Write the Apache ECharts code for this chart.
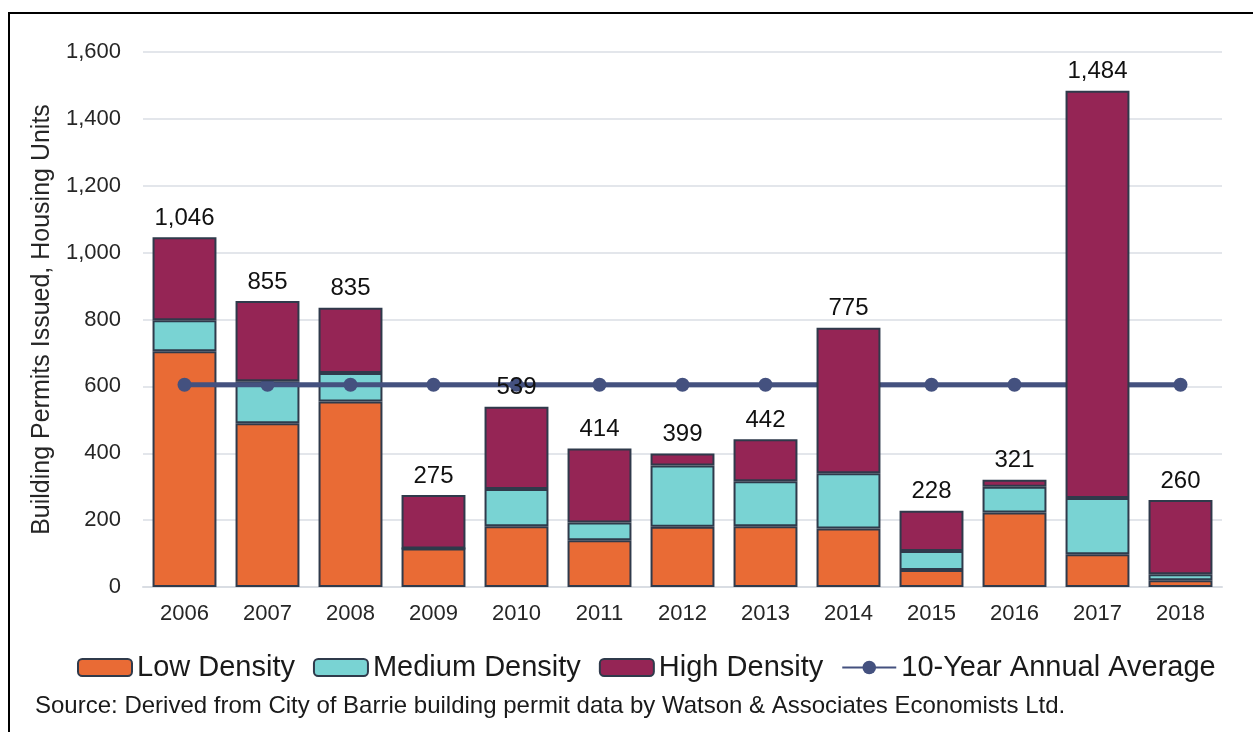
<!DOCTYPE html>
<html>
<head>
<meta charset="utf-8">
<script src="https://cdn.jsdelivr.net/npm/echarts@6/dist/echarts.min.js"></script>
<style>
  html, body { margin: 0; padding: 0; background: #fff; }
  #wrap { position: relative; width: 1253px; height: 732px; overflow: hidden; }
  /* frame like the pasted report figure */
  #frame { position: absolute; left: 8px; top: 12px; width: 1300px; height: 800px;
           border-top: 2px solid #000; border-left: 2px solid #000; }
  #chart { position: absolute; left: 0; top: 0; width: 1253px; height: 732px; }
</style>
</head>
<body>
<div id="wrap">
  <div id="frame"></div>
  <div id="chart"></div>
</div>
<script>
// data
const years = ['2006', '2007', '2008', '2009', '2010', '2011', '2012', '2013', '2014', '2015', '2016', '2017', '2018']
const lowDensity = [705, 490, 555, 115, 182, 140, 180, 182, 175, 51, 223, 98, 20]
const mediumDensity = [93, 125, 85, 0, 111, 53, 183, 134, 165, 57, 77, 168, 18]
const highDensity = [248, 240, 195, 160, 246, 221, 36, 126, 435, 120, 21, 1218, 222]
const annualAverage = [605, 605, 605, 605, 605, 605, 605, 605, 605, 605, 605, 605, 605]
const yTicks = [0, 200, 400, 600, 800, 1000, 1200, 1400, 1600]

const totals = years.map((y, i) => lowDensity[i] + mediumDensity[i] + highDensity[i])
const fmt = v => v.toLocaleString('en-US')

const font = '"Liberation Sans", Arial, sans-serif'
const edge = '#2f3a4b'

const chart = echarts.init(document.getElementById('chart'))
const options = {
  animation: false,
  textStyle: { fontFamily: font },
  grid: { left: 143, right: 31, top: 52, bottom: 145 },
  legend: {
    left: 72,
    top: 648,
    itemWidth: 54,
    itemHeight: 17,
    itemGap: 18,
    textStyle: { fontSize: 29, color: '#1a1a1a', fontFamily: font },
    data: ['Low Density', 'Medium Density', 'High Density', '10-Year Annual Average'],
  },
  xAxis: {
    type: 'category',
    data: years,
    axisLine: { lineStyle: { color: '#d9dde3', width: 2 } },
    axisTick: { show: false },
    axisLabel: { fontSize: 22, color: '#262626', margin: 16 },
  },
  yAxis: {
    type: 'value',
    min: yTicks[0],
    max: yTicks[yTicks.length - 1],
    interval: 200,
    name: 'Building Permits Issued, Housing Units',
    nameLocation: 'middle',
    nameGap: 84,
    nameTextStyle: { fontSize: 25, color: '#262626' },
    axisLine: { show: false },
    axisTick: { show: false },
    axisLabel: { fontSize: 22, color: '#262626', margin: 22, formatter: v => fmt(v) },
    splitLine: { lineStyle: { color: '#e3e6eb', width: 2 } },
  },
  series: [
    {
      name: 'Low Density',
      type: 'bar',
      stack: 'permits',
      data: lowDensity,
      barWidth: '77%',
      itemStyle: { color: '#e96b35', borderColor: edge, borderWidth: 2 },
    },
    {
      name: 'Medium Density',
      type: 'bar',
      stack: 'permits',
      data: mediumDensity,
      itemStyle: { color: '#79d3d3', borderColor: edge, borderWidth: 2 },
    },
    {
      name: 'High Density',
      type: 'bar',
      stack: 'permits',
      data: highDensity,
      itemStyle: { color: '#952555', borderColor: edge, borderWidth: 2 },
      label: {
        show: true,
        position: 'top',
        distance: 7,
        fontSize: 24,
        color: '#111',
        formatter: p => fmt(totals[p.dataIndex]),
      },
      z: 3,
    },
    {
      name: '10-Year Annual Average',
      type: 'line',
      data: annualAverage,
      symbol: 'circle',
      symbolSize: 14,
      lineStyle: { color: '#44517f', width: 5 },
      itemStyle: { color: '#44517f' },
      z: 2,
    },
  ],
  graphic: [
    {
      type: 'text',
      left: 35,
      top: 694,
      style: {
        text: 'Source: Derived from City of Barrie building permit data by Watson & Associates Economists Ltd.',
        fontSize: 24,
        fontFamily: font,
        fill: '#1a1a1a',
      },
    },
  ],
}
chart.setOption(options)
</script>
</body>
</html>
